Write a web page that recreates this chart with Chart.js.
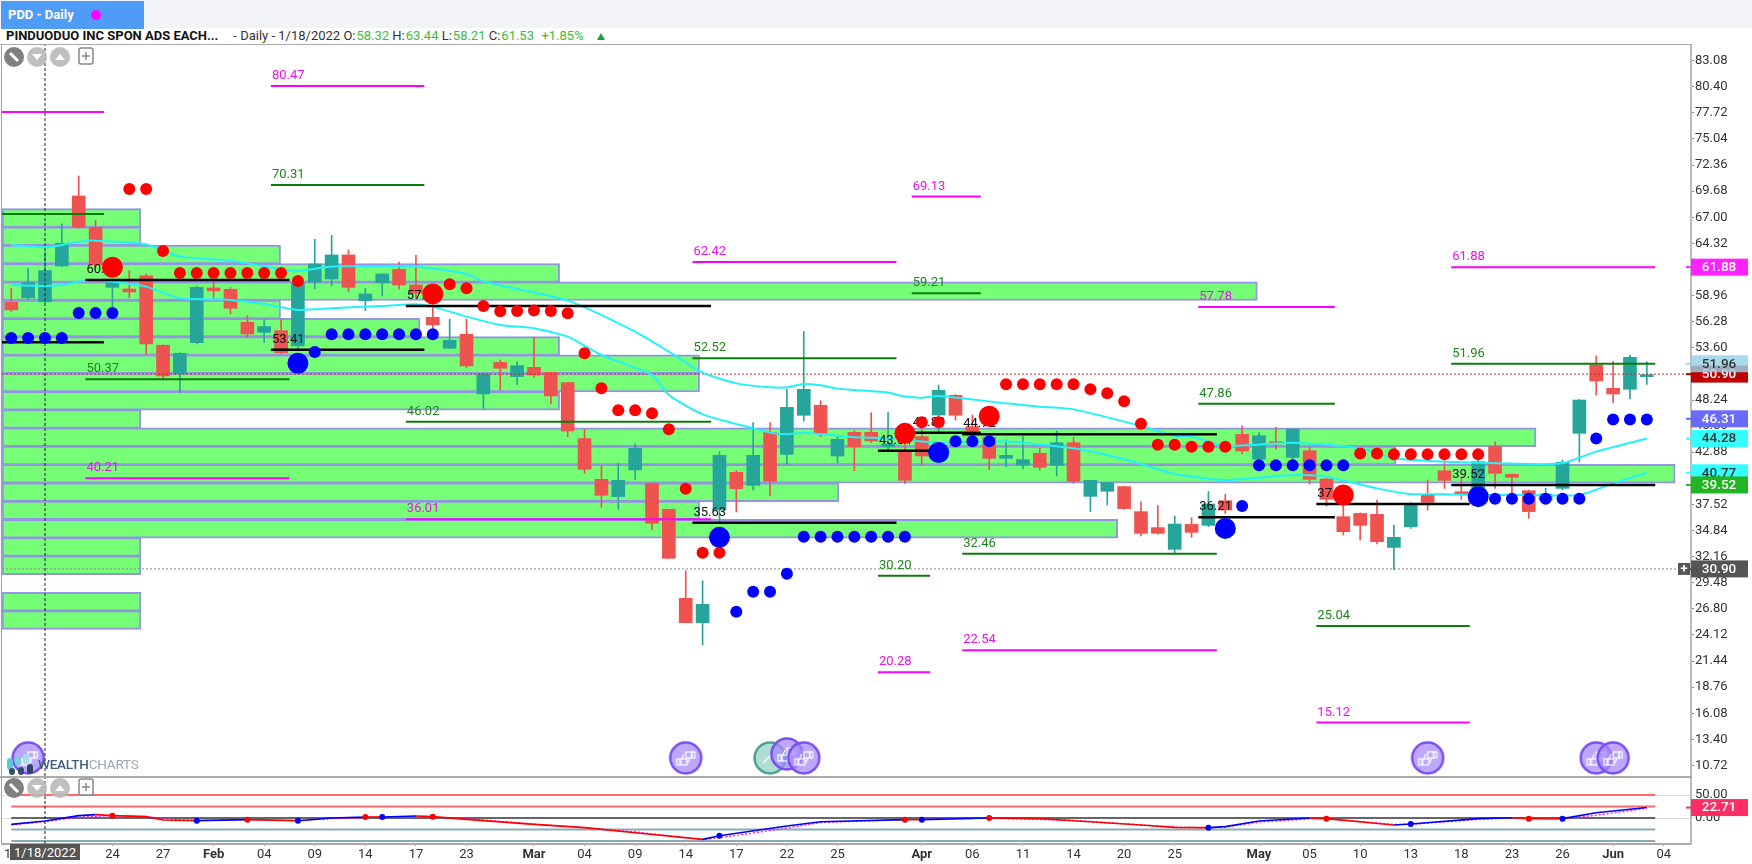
<!DOCTYPE html>
<html>
<head>
<meta charset="utf-8">
<title>PDD - Daily</title>
<script src="https://cdn.jsdelivr.net/npm/chart.js@4"></script>
<style>
html, body { margin: 0; padding: 0; background: #fff; width: 1752px; height: 864px; overflow: hidden; font-family: Roboto, sans-serif; }
#band { position: absolute; left: 0; top: 0; width: 1752px; height: 28px; background: #f2f4f8; }
#tab { position: absolute; left: 1px; top: 1px; width: 143px; height: 28px; background: #4f9cf7; color: #fff; font-weight: 700; font-size: 13px; line-height: 28px; text-indent: 7px; }
#tab i { position: absolute; left: 90px; top: 9px; width: 10px; height: 10px; border-radius: 50%; background: #ff00ff; }
#title { position: absolute; left: 6px; top: 28px; height: 16px; line-height: 16px; font-size: 13px; white-space: nowrap; color: #333; }
#title b { color: #111; margin-right: 15px; font-size: 13px; }
#title span { color: #3dbb3d; margin-left: 1px; }
#title em { position: absolute; left: 591px; top: 5px; width: 0; height: 0; border-left: 4px solid transparent; border-right: 4px solid transparent; border-bottom: 7px solid #1f9a3a; }
canvas { position: absolute; left: 0; }
#mainChart { top: 44px; }
#oscChart { top: 776px; }
.rule { position: absolute; }
#dateTag { position: absolute; left: 10px; top: 844px; width: 70px; height: 16px; line-height: 17px; background: #555; color: #fff; font-size: 13px; text-align: center; }
#logo { position: absolute; left: 38px; top: 756px; font-size: 13.5px; line-height: 16px; font-weight: 500; letter-spacing: -0.2px; color: #3f5f80; }
#logo span { color: #9fa8b2; font-weight: 400; }
.ctl { position: absolute; }
</style>
</head>
<body>
<div id="band"></div>
<div id="tab">PDD - Daily<i></i></div>
<div id="title"><b>PINDUODUO INC SPON ADS EACH...</b>- Daily - 1/18/2022 O:<span>58.32</span> H:<span>63.44</span> L:<span>58.21</span> C:<span>61.53</span>&nbsp; <span>+1.85%</span><em></em></div>
<canvas id="mainChart" width="1752" height="732"></canvas>
<canvas id="oscChart" width="1752" height="88"></canvas>
<div class="rule" style="left:0;top:44px;width:1692px;height:1px;background:#aaa"></div>
<div class="rule" style="left:0;top:776px;width:1692px;height:2px;background:#aaa"></div>
<div class="rule" style="left:1px;top:44px;width:1px;height:800px;background:#9a9ae6"></div>
<div id="dateTag">1/18/2022</div>
<div id="logo">WEALTH<span>CHARTS</span></div>
<script>
// bar positions are trading days counted from 1/18/2022 (bar 0), so the first bar is -2
var firstBar = -2;
var opens = [58.27, 58.72, 58.32, 62.0, 69.19, 65.97, 59.81, 59.64, 60.98, 53.86, 50.92, 54.13, 59.75, 59.61, 56.22, 55.19, 55.36, 53.79, 60.33, 60.67, 63.13, 58.44, 60.29, 61.66, 60.05, 56.73, 53.55, 54.99, 48.86, 52.1, 50.64, 51.6, 51.09, 50.03, 44.28, 40.10, 38.32, 41.06, 39.69, 37.02, 27.88, 25.38, 36.95, 40.82, 39.48, 44.92, 42.66, 46.67, 47.70, 42.49, 44.92, 44.92, 43.45, 42.94, 44.48, 46.70, 48.72, 45.51, 44.38, 42.25, 41.57, 42.77, 41.54, 43.86, 38.35, 38.87, 39.35, 36.78, 35.14, 32.91, 35.47, 35.37, 37.9, 44.71, 42.15, 43.96, 42.35, 43.04, 40.13, 36.26, 36.6, 36.5, 33.11, 35.24, 38.49, 40.98, 38.83, 38.66, 43.45, 40.61, 38.93, 37.97, 39.17, 44.82, 51.83, 49.44, 49.34, 50.64];
var closes = [57.49, 60.29, 61.53, 64.33, 65.97, 62.1, 60.29, 59.33, 54.0, 50.71, 53.04, 59.81, 59.44, 57.66, 55.02, 55.78, 53.1, 60.22, 62.21, 63.13, 59.81, 59.13, 61.18, 60.05, 59.2, 55.95, 54.37, 51.74, 50.92, 51.5, 51.77, 50.81, 48.66, 45.06, 41.13, 38.46, 40.0, 43.28, 35.58, 31.99, 25.38, 27.26, 42.56, 39.14, 42.56, 39.89, 47.49, 49.34, 44.82, 44.2, 43.45, 44.03, 43.73, 40.0, 42.49, 49.24, 46.67, 45.09, 42.25, 42.56, 42.12, 41.33, 43.86, 39.89, 40.0, 39.76, 37.09, 34.55, 34.55, 35.51, 34.65, 37.56, 36.95, 43.0, 44.58, 43.79, 45.26, 40.09, 38.04, 34.72, 35.37, 33.7, 34.14, 37.46, 37.73, 39.99, 38.62, 41.91, 40.71, 40.3, 36.78, 38.59, 41.84, 48.24, 50.19, 48.86, 52.62, 50.84];
var highs = [59.71, 61.73, 63.44, 66.32, 71.24, 66.66, 60.6, 61.53, 61.18, 53.9, 53.1, 59.95, 60.4, 59.81, 56.9, 56.53, 56.46, 60.5, 64.74, 65.15, 63.65, 59.71, 61.2, 62.41, 63.1, 58.0, 56.53, 56.53, 51.05, 52.35, 52.18, 54.68, 51.09, 50.05, 45.23, 41.5, 41.74, 43.73, 39.7, 37.05, 30.72, 29.69, 42.94, 40.99, 45.92, 45.92, 49.34, 55.26, 48.17, 44.55, 45.09, 46.94, 46.94, 44.82, 45.33, 49.78, 48.8, 46.7, 44.4, 44.14, 44.48, 43.28, 45.06, 44.41, 40.0, 39.8, 39.4, 37.8, 37.39, 36.33, 36.16, 38.83, 38.55, 45.6, 44.89, 45.43, 45.3, 43.38, 40.2, 37.97, 36.65, 37.97, 35.41, 37.73, 40.03, 42.01, 40.37, 42.08, 43.96, 40.65, 39.0, 39.17, 42.08, 48.3, 52.76, 52.18, 52.86, 52.18];
var lows = [57.32, 58.51, 58.21, 61.9, 65.9, 61.8, 57.83, 58.75, 52.87, 50.3, 49.0, 53.99, 58.58, 57.08, 54.68, 54.13, 53.0, 53.5, 59.64, 59.98, 59.37, 57.42, 58.92, 59.61, 58.7, 55.6, 53.5, 51.57, 47.39, 49.27, 49.79, 50.54, 47.84, 44.48, 40.72, 37.22, 37.02, 40.1, 34.9, 31.95, 25.38, 23.09, 35.65, 36.74, 39.0, 38.39, 41.64, 46.09, 44.48, 41.81, 40.99, 43.86, 42.9, 39.69, 41.57, 44.82, 46.19, 44.14, 41.06, 41.4, 41.16, 41.06, 40.44, 39.69, 36.78, 37.46, 37.02, 34.28, 34.48, 32.43, 34.14, 35.24, 36.6, 42.7, 42.1, 43.18, 41.46, 39.62, 37.36, 34.38, 33.87, 33.46, 30.79, 35.06, 36.95, 39.17, 38.04, 38.0, 39.17, 38.73, 36.09, 37.63, 39.0, 41.91, 48.75, 47.97, 48.34, 49.85];

var priceTicks = [83.08, 80.40, 77.72, 75.04, 72.36, 69.68, 67.00, 64.32, 61.64, 58.96, 56.28, 53.60, 50.92, 48.24, 45.56, 42.88, 40.20, 37.52, 34.84, 32.16, 29.48, 26.80, 24.12, 21.44, 18.76, 16.08, 13.40, 10.72];
var tickBars = [-2, 1, 4, 7, 10, 13, 16, 19, 22, 25, 29, 32, 35, 38, 41, 44, 47, 52, 55, 58, 61, 64, 67, 72, 75, 78, 81, 84, 87, 90, 93, 96];
var tickLabels = ['13', '19', '24', '27', 'Feb', '04', '09', '14', '17', '23', 'Mar', '04', '09', '14', '17', '22', '25', 'Apr', '06', '11', '14', '20', '25', 'May', '05', '10', '13', '18', '23', '26', 'Jun', '04'];

// volume profile rows: middle price of the row and how far right (in bars) it reaches
var profilePrices = [66.92, 65.05, 63.17, 61.29, 59.42, 57.54, 55.67, 53.79, 51.92, 50.04, 48.16, 46.29, 44.41, 42.54, 40.66, 38.78, 36.91, 35.03, 33.16, 31.28, 27.53, 25.65];
var profileEnds = [5.69, 5.69, 13.97, 30.52, 71.9, 13.97, 22.24, 30.52, 38.82, 38.82, 30.52, 5.69, 88.43, 80.13, 96.68, 47.09, 38.82, 63.62, 5.69, 5.69, 5.69, 5.69];

// target lines
var levelPrices = [77.81, 67.34, 54.17, 80.47, 70.31, 53.41, 60.57, 50.37, 40.21, 57.90, 46.02, 36.01, 62.42, 52.52, 35.63, 69.13, 59.21, 44.89, 43.04, 30.20, 20.28, 44.72, 32.46, 22.54, 57.78, 47.86, 36.21, 37.56, 25.04, 15.12, 61.88, 51.96, 39.52];
var levelFrom = [-2.55, -2.55, -2.55, 13.4, 13.4, 13.4, 2.4, 2.4, 2.4, 21.4, 21.4, 21.4, 38.4, 38.4, 38.4, 51.4, 51.4, 51.4, 49.4, 49.4, 49.4, 54.4, 54.4, 54.4, 68.4, 68.4, 68.4, 75.4, 75.4, 75.4, 83.4, 83.4, 83.4];
var levelTo = [3.5, 3.5, 3.5, 22.5, 22.5, 22.5, 14.5, 14.5, 14.5, 39.5, 39.5, 39.5, 50.5, 50.5, 50.5, 55.5, 55.5, 55.5, 52.5, 52.5, 52.5, 69.5, 69.5, 69.5, 76.5, 76.5, 76.5, 84.5, 84.5, 84.5, 95.5, 95.5, 95.5];
var levelKinds = ['m', 'g', 'k', 'm', 'g', 'k', 'k', 'g', 'm', 'k', 'g', 'm', 'm', 'g', 'k', 'm', 'g', 'k', 'k', 'g', 'm', 'k', 'g', 'm', 'm', 'g', 'k', 'k', 'g', 'm', 'm', 'g', 'k'];
var levelNoLabel = [0, 1, 2];

// signal dots
var redBars = [5, 6, 7, 8, 9, 10, 11, 12, 13, 14, 15, 24, 25, 26, 27, 28, 29, 30, 31, 32, 33, 34, 35, 36, 37, 38, 39, 40, 52, 53, 57, 58, 59, 60, 61, 62, 63, 64, 65, 66, 67, 68, 69, 70, 78, 79, 80, 81, 82, 83, 84, 85];
var redPrices = [69.91, 69.91, 63.54, 61.29, 61.29, 61.29, 61.29, 61.29, 61.29, 61.29, 60.46, 60.12, 59.71, 57.9, 57.35, 57.38, 57.42, 57.38, 57.14, 53.04, 49.44, 47.18, 47.18, 46.87, 45.23, 39.14, 32.57, 32.57, 45.95, 45.95, 49.85, 49.85, 49.85, 49.85, 49.85, 49.34, 48.93, 48.11, 45.81, 43.65, 43.65, 43.45, 43.45, 43.45, 42.76, 42.76, 42.66, 42.66, 42.66, 42.66, 42.66, 42.66];
var bigRedBars = [4, 23, 51, 56, 77];
var bigRedPrices = [61.87, 59.13, 44.82, 46.57, 38.49];
var blueBars = [-2, -1, 0, 1, 2, 3, 4, 16, 17, 18, 19, 20, 21, 22, 23, 41, 42, 43, 44, 45, 46, 47, 48, 49, 50, 51, 54, 55, 56, 71, 72, 73, 74, 75, 76, 77, 86, 87, 88, 89, 90, 91, 92, 93, 94, 95];
var bluePrices = [54.61, 54.61, 54.61, 54.61, 57.18, 57.18, 57.18, 53.17, 54.99, 54.99, 54.99, 54.99, 54.99, 54.99, 54.99, 26.51, 28.56, 28.56, 30.41, 34.21, 34.21, 34.21, 34.21, 34.21, 34.21, 34.21, 44.0, 44.0, 44.0, 37.36, 41.53, 41.53, 41.53, 41.53, 41.53, 41.53, 38.11, 38.11, 38.11, 38.11, 38.11, 38.11, 44.3, 46.25, 46.25, 46.25];
var bigBlueBars = [15, 40, 53, 70, 85];
var bigBluePrices = [52.01, 34.14, 42.84, 35.06, 38.32];

// the two cyan averages
var maUpperBars = [-2, 0, 1, 2, 3, 6, 8, 11, 14, 15, 17, 20, 22, 25, 26, 31, 35, 37, 39, 41, 43, 44, 45, 46, 47, 48, 50, 51, 52, 53, 57, 59, 61, 65, 67, 68, 70, 74, 78, 80, 83, 88, 90, 92, 95];
var maUpperValues = [64.16, 63.92, 64.16, 64.5, 64.6, 64.23, 62.96, 62.55, 61.66, 61.49, 61.94, 62.0, 61.94, 61.18, 60.4, 58.44, 55.26, 53.2, 51.05, 49.95, 49.54, 49.54, 49.89, 49.75, 49.41, 49.27, 49.0, 48.59, 48.48, 48.65, 47.9, 47.56, 47.28, 45.57, 44.55, 44.48, 43.52, 43.85, 43.28, 42.25, 41.91, 41.67, 41.74, 42.94, 44.28];
var maLowerBars = [-2, 0, 1, 2, 3, 4, 6, 8, 10, 11, 13, 15, 17, 20, 22, 23, 25, 27, 29, 31, 33, 36, 37, 39, 42, 43, 44, 45, 48, 50, 52, 53, 57, 61, 64, 67, 70, 74, 76, 79, 81, 83, 85, 88, 91, 93, 95];
var maLowerValues = [60.05, 59.95, 60.05, 60.4, 60.57, 60.4, 59.88, 58.68, 58.58, 58.51, 58.1, 57.49, 57.66, 57.9, 58.07, 57.83, 56.8, 55.95, 55.6, 54.75, 52.86, 50.81, 48.76, 46.77, 45.33, 44.89, 44.72, 44.89, 44.41, 44.31, 43.97, 43.86, 43.97, 43.28, 42.15, 40.65, 40.03, 40.54, 40.37, 39.17, 38.59, 38.56, 38.49, 38.49, 38.49, 39.68, 40.77];

// purple and teal event badges
var badgeBars = [-1, 38, 44, 45, 82, 92, 93];
var badgePrices = [11.5, 11.5, 11.9, 11.5, 11.5, 11.5, 11.5];
var tealBadgeBars = [43];
var tealBadgePrices = [11.5];

// price tags on the right axis
var tagValues = [61.88, 50.90, 51.96, 46.31, 44.28, 40.77, 39.52, 30.90];
var tagFills = ['#ff22ff', '#c00000', 'rgba(150,210,232,0.82)', '#6a6aff', '#33ffff', '#33ffff', '#22b422', '#555555'];
var tagTexts = ['#ffffff', '#ffffff', '#333333', '#ffffff', '#333333', '#333333', '#ffffff', '#ffffff'];

// lower panel
var oscBars = [-2, 0, 2, 3, 4, 6, 7, 9, 12, 15, 17, 19, 20, 22, 23, 25, 29, 32, 35, 39, 40, 44, 46, 51, 52, 56, 59, 61, 65, 67, 69, 70, 72, 75, 76, 80, 81, 85, 87, 88, 90, 92, 95];
var oscValues = [-13.8, -6.5, 5.1, 7.3, 5.1, 2.9, -4.3, -5.8, -3.6, -5.8, 0, 2.2, 2.2, 4.3, 2.9, -2.9, -13.8, -21, -31.9, -46.4, -38.4, -17.4, -8, -3.6, -3.6, 0, -1.4, -5.8, -15.2, -20.3, -21, -18.8, -6.5, 0, -1.4, -15.2, -13, -1.4, 0.7, -1.4, -1.4, 11.6, 22.71];
var signalBars = [-2, 0, 2, 4, 6, 7, 9, 12, 15, 17, 20, 22, 25, 29, 32, 35, 39, 40, 44, 46, 51, 56, 61, 65, 67, 69, 70, 72, 75, 76, 80, 81, 85, 87, 90, 92, 95];
var signalValues = [-15, -8, 2, 5, 3.5, -2, -5, -3.5, -6, -1.5, 2, 3.5, -1, -13, -21, -30, -47, -43, -22, -10, -3.5, -0.5, -5, -15, -20, -21, -20, -9, -2, -1.5, -14, -14, -3, 0, -1.5, 6, 21];
var oscRedDotBars = [4, 12, 19, 23, 51, 56, 76, 88];
var oscRedDotValues = [5.1, -3.6, 2.2, 2.9, -3.6, 0, -1.4, -1.4];
var oscBlueDotBars = [9, 15, 20, 40, 52, 69, 81, 90];
var oscBlueDotValues = [-5.8, -5.8, 2.2, -38.4, -3.6, -21, -13, -1.4];
var oscLevels = [50, 25, 0, -25, -50];
var oscLevelColors = ['#ff6b6b', '#ff6b6b', '#666666', '#8aabb4', '#8aabb4'];

var xMin = -2.55, xMax = 97.62;
var up = '#26a69a', down = '#ef5350';
var kindColors = { m: '#ff00ff', g: '#0b7d0b', k: '#000000' };
var textColors = { m: '#ee11ee', g: '#1c871c', k: '#111111' };

function pts(xs, ys) {
    return xs.map(function (x, i) { return { x: x, y: ys[i] }; });
}
function barX(i) { return i + firstBar; }

function dots(label, xs, ys, color, radius, order) {
    return { type: 'line', label: label, data: pts(xs, ys), showLine: false, pointRadius: radius, pointBackgroundColor: color, pointBorderWidth: 0, order: order };
}

// the axes must not push the plot inwards for their first and last label
function noPadding(s) {
    s.paddingTop = 0; s.paddingBottom = 0; s.paddingLeft = 0; s.paddingRight = 0;
}

function badge(fill, edge, teal) {
    var c = document.createElement('canvas');
    c.width = 36; c.height = 36;
    var g = c.getContext('2d');
    g.beginPath();
    g.arc(18, 18, 15.5, 0, Math.PI * 2);
    g.fillStyle = fill; g.fill();
    g.lineWidth = 2.5; g.strokeStyle = edge; g.stroke();
    g.strokeStyle = '#fff'; g.lineWidth = 1.2;
    if (teal) {
        g.beginPath(); g.moveTo(11, 23); g.lineTo(18, 16); g.lineTo(24, 21); g.stroke();
    } else {
        g.strokeRect(9, 19, 3, 6); g.strokeRect(13, 19, 6, 6);
        g.beginPath(); g.moveTo(14, 19); g.lineTo(16, 14); g.stroke();
        g.strokeRect(24, 12, 3, 6); g.strokeRect(18, 12, 6, 6);
        g.beginPath(); g.moveTo(22, 18); g.lineTo(20, 23); g.stroke();
    }
    return c;
}

var levelLabels = {
    id: 'levelLabels',
    beforeDatasetDraw: function (chart, args) {
        if (chart.data.datasets[args.index].label !== 'signals up') return;
        var c = chart.ctx, x = chart.scales.x, y = chart.scales.y;
        c.save();
        c.font = '13px Roboto';
        c.textBaseline = 'alphabetic';
        levelPrices.forEach(function (p, i) {
            if (levelNoLabel.indexOf(i) >= 0) return;
            c.fillStyle = textColors[levelKinds[i]];
            c.fillText(p.toFixed(2), x.getPixelForValue(levelFrom[i]) + 1, y.getPixelForValue(p) - 7);
        });
        c.restore();
    }
};

function drawTag(chart, scale, value, fill, text) {
    var c = chart.ctx, py = scale.getPixelForValue(value), left = chart.chartArea.right;
    c.fillStyle = fill;
    c.fillRect(left - 5, py - 1, 5, 2);
    c.fillRect(left, py - 8.5, 57, 17);
    c.fillStyle = text;
    c.font = '500 13.5px Roboto';
    c.textBaseline = 'middle';
    c.textAlign = 'center';
    c.fillText(value.toFixed(2), left + 28, py + 0.5);
}

var axisTags = {
    id: 'axisTags',
    afterDraw: function (chart) {
        var y = chart.scales.y, c = chart.ctx;
        c.save();
        tagValues.forEach(function (v, i) { drawTag(chart, y, v, tagFills[i], tagTexts[i]); });
        var py = y.getPixelForValue(30.90), left = chart.chartArea.right;
        c.fillStyle = '#555';
        c.fillRect(left - 13, py - 6, 12, 12);
        c.fillStyle = '#fff';
        c.font = '700 13px Roboto';
        c.fillText('+', left - 7, py + 0.5);
        c.restore();
    }
};

var oscTag = {
    id: 'oscTag',
    afterDraw: function (chart) {
        chart.ctx.save();
        drawTag(chart, chart.scales.y, 22.71, '#ff2d66', '#ffffff');
        chart.ctx.restore();
    }
};

var xAxisBase = { type: 'linear', min: xMin, max: xMax, offset: false };

var mainDatasets = [
    { type: 'bar', indexAxis: 'y', label: 'profile', data: profilePrices.map(function (p, i) { return { y: p, x: [xMin, profileEnds[i]] }; }), backgroundColor: '#76ff76', borderColor: '#9494e4', borderWidth: 2, borderSkipped: false, barThickness: 18.8, grouped: false, order: 20 },
    { type: 'bar', label: 'wicks', data: highs.map(function (h, i) { return { x: barX(i), y: [lows[i], h] }; }), backgroundColor: highs.map(function (h, i) { return closes[i] >= opens[i] ? up : down; }), barThickness: 1, grouped: false, order: 18 },
    { type: 'bar', label: 'bodies', data: opens.map(function (o, i) { return { x: barX(i), y: [o, closes[i]] }; }), backgroundColor: opens.map(function (o, i) { return closes[i] >= o ? up : down; }), barThickness: 13, grouped: false, order: 17 },
    { type: 'line', label: 'last close', data: pts([xMin, xMax], [50.90, 50.90]), borderColor: '#c62828', borderWidth: 1, borderDash: [2, 2], pointRadius: 0, order: 16 },
    { type: 'line', label: 'low', data: pts([xMin, xMax], [30.90, 30.90]), borderColor: '#888888', borderWidth: 1, borderDash: [2, 2], pointRadius: 0, order: 16 },
    { type: 'line', label: 'ma upper', data: pts(maUpperBars, maUpperValues), borderColor: '#22f2f8', borderWidth: 2, pointRadius: 0, tension: 0.2, order: 15 },
    { type: 'line', label: 'ma lower', data: pts(maLowerBars, maLowerValues), borderColor: '#22f2f8', borderWidth: 2, pointRadius: 0, tension: 0.2, order: 15 },
    { type: 'line', label: 'crosshair', data: pts([0, 0], [9.64, 84.79]), borderColor: '#222222', borderWidth: 1, borderDash: [3, 2], pointRadius: 0, order: 5 },
    { type: 'line', label: 'badges', data: pts(tealBadgeBars, tealBadgePrices), showLine: false, pointStyle: badge('rgba(150,210,200,0.75)', '#4f9f94', true), pointRadius: 16, order: 13 },
    { type: 'line', label: 'badges', data: pts(badgeBars, badgePrices), showLine: false, pointStyle: badge('rgba(165,135,255,0.72)', '#7a4ff0', false), pointRadius: 16, order: 12 },
    dots('signals up', redBars, redPrices, '#ff0000', 6, 4),
    dots('signals big', bigRedBars, bigRedPrices, '#ff0000', 10.5, 3),
    dots('signals down', blueBars, bluePrices, '#0000ff', 6, 2),
    dots('signals big', bigBlueBars, bigBluePrices, '#0000ff', 10.5, 1)
];
levelPrices.forEach(function (p, i) {
    mainDatasets.push({ type: 'line', label: 'level', data: pts([levelFrom[i], levelTo[i]], [p, p]), borderColor: kindColors[levelKinds[i]], borderWidth: levelKinds[i] === 'k' ? 2.5 : 2, pointRadius: 0, order: 14 });
});

new Chart(document.getElementById('mainChart'), {
    type: 'bar',
    data: { datasets: mainDatasets },
    options: {
        responsive: false,
        animation: false,
        layout: { autoPadding: false, padding: { left: 2, right: 0, top: 0, bottom: 0 } },
        plugins: { legend: { display: false }, tooltip: { enabled: false } },
        scales: {
            x: Object.assign({}, xAxisBase, { display: false }),
            y: {
                position: 'right',
                offset: false,
                min: 9.64,
                max: 84.79,
                afterFit: function (s) { s.width = 61; noPadding(s); },
                afterBuildTicks: function (s) { s.ticks = priceTicks.map(function (v) { return { value: v }; }); },
                grid: { offset: false, drawOnChartArea: false, tickLength: 3, color: '#888888' },
                border: { color: '#bbbbbb', width: 2 },
                ticks: { padding: 1, crossAlign: 'near', color: '#333333', font: { family: 'Roboto', size: 13 }, callback: function (v) { return v.toFixed(2); } }
            }
        }
    },
    plugins: [levelLabels, axisTags]
});

var oscDatasets = [
    { type: 'line', label: 'signal', data: pts(signalBars, signalValues), borderColor: '#ff00ff', borderWidth: 1.2, borderDash: [2, 2], pointRadius: 0, order: 4 },
    {
        type: 'line', label: 'oscillator', data: pts(oscBars, oscValues), borderWidth: 1.6, pointRadius: 0, order: 3,
        segment: { borderColor: function (ctx) { return ctx.p1.parsed.y > ctx.p0.parsed.y ? '#0000ff' : '#ff0000'; } }
    },
    dots('cross', oscRedDotBars, oscRedDotValues, '#ff0000', 3, 2),
    dots('cross', oscBlueDotBars, oscBlueDotValues, '#0000ff', 3, 1),
    { type: 'line', label: 'crosshair', data: pts([0, 0], [-56.5, 91.3]), borderColor: '#222222', borderWidth: 1, borderDash: [3, 2], pointRadius: 0, order: 0 }
];
oscLevels.forEach(function (v, i) {
    oscDatasets.push({ type: 'line', label: 'band', data: pts([-2, 95.5], [v, v]), borderColor: oscLevelColors[i], borderWidth: 2, pointRadius: 0, order: 6 });
});

new Chart(document.getElementById('oscChart'), {
    type: 'line',
    data: { datasets: oscDatasets },
    options: {
        responsive: false,
        animation: false,
        layout: { autoPadding: false, padding: { left: 2, right: 0, top: 0, bottom: 0 } },
        plugins: { legend: { display: false }, tooltip: { enabled: false } },
        scales: {
            x: Object.assign({}, xAxisBase, {
                afterFit: function (s) { s.height = 20; noPadding(s); },
                afterBuildTicks: function (s) { s.ticks = tickBars.map(function (v) { return { value: v }; }); },
                grid: { drawOnChartArea: false, tickLength: 2, color: '#aaaaaa' },
                border: { color: '#aaaaaa', width: 2 },
                ticks: {
                    autoSkip: false,
                    maxRotation: 0,
                    padding: 1,
                    color: '#333333',
                    font: function (ctx) {
                        var isMonth = ctx.tick && isNaN(tickLabels[tickBars.indexOf(ctx.tick.value)]);
                        return { family: 'Roboto', size: 13, weight: isMonth ? '700' : '400' };
                    },
                    callback: function (v) { return tickLabels[tickBars.indexOf(v)]; }
                }
            }),
            y: {
                position: 'right',
                min: -56.5,
                max: 91.3,
                afterFit: function (s) { s.width = 61; noPadding(s); },
                afterBuildTicks: function (s) { s.ticks = [{ value: 50 }, { value: 0 }]; },
                grid: { color: '#dddddd', tickLength: 3 },
                border: { color: '#bbbbbb', width: 2 },
                ticks: { padding: 1, crossAlign: 'near', color: '#333333', font: { family: 'Roboto', size: 13 }, callback: function (v) { return v.toFixed(2); } }
            }
        }
    },
    plugins: [oscTag]
});

// small round buttons at the top left of both panels
function addButtons(top) {
    var box = document.createElement('div');
    box.className = 'ctl';
    box.style.left = '3px';
    box.style.top = top + 'px';
    box.innerHTML = '<svg width="100" height="24" xmlns="http://www.w3.org/2000/svg">' +
        '<circle cx="11" cy="12" r="10" fill="#808080"/><path d="M7 8 L15 16" stroke="#fff" stroke-width="3"/>' +
        '<circle cx="34" cy="12" r="10" fill="#b8b8b8" opacity="0.9"/><path d="M29 9 L39 9 L34 15 Z" fill="#fff"/>' +
        '<circle cx="57" cy="12" r="10" fill="#b8b8b8" opacity="0.9"/><path d="M52 15 L62 15 L57 9 Z" fill="#fff"/>' +
        '<rect x="76" y="3" width="14" height="16" rx="2" fill="#fff" stroke="#888" stroke-width="1.5"/><path d="M83 7 L83 15 M79 11 L87 11" stroke="#888" stroke-width="1.5"/></svg>';
    document.body.appendChild(box);
}
addButtons(45);
addButtons(776);

var logo = document.createElement('div');
logo.className = 'ctl';
logo.style.left = '5px';
logo.style.top = '750px';
logo.innerHTML = '<svg width="34" height="26" xmlns="http://www.w3.org/2000/svg">' +
    '<rect x="2" y="8" width="6" height="12" rx="3" fill="#5fc8d8"/><rect x="10" y="6" width="6" height="10" rx="3" fill="#7ad0e0"/><rect x="18" y="4" width="6" height="10" rx="3" fill="#9fe0ea"/>' +
    '<rect x="4" y="18" width="6" height="7" rx="3" fill="#34506e"/><rect x="13" y="17" width="6" height="8" rx="3" fill="#34506e"/><rect x="22" y="14" width="6" height="10" rx="3" fill="#2c4560"/></svg>';
document.body.appendChild(logo);
</script>
</body>
</html>
